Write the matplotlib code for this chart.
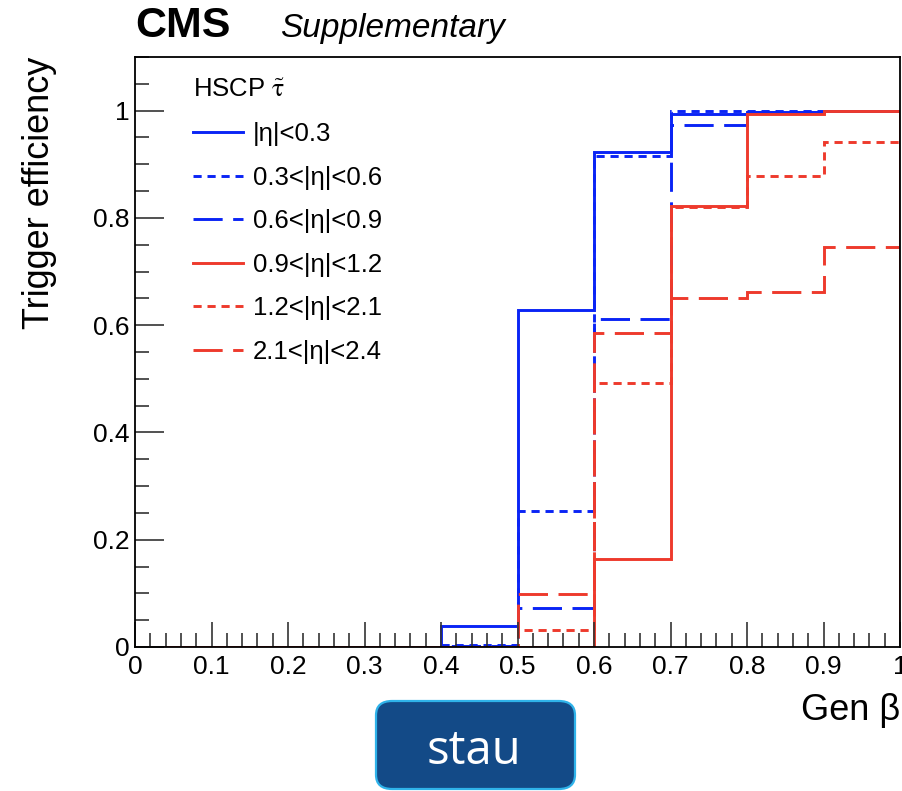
import numpy as np
import matplotlib.pyplot as plt
from matplotlib.patches import FancyBboxPatch
from matplotlib.ticker import MultipleLocator

plt.rcParams['font.family'] = ['Liberation Sans', 'DejaVu Sans']
plt.rcParams['mathtext.fontset'] = 'stix'

# Gen beta bins and per-eta trigger efficiencies (HSCP stau)
beta_edges = np.round(np.arange(0, 1.01, 0.1), 2)
eff_eta_00_03 = [0, 0, 0, 0, 0.040, 0.629, 0.922, 0.993, 0.997, 0.999]
eff_eta_03_06 = [0, 0, 0, 0, 0.003, 0.254, 0.915, 0.999, 0.999, 1.000]
eff_eta_06_09 = [0, 0, 0, 0, 0.002, 0.072, 0.612, 0.974, 0.997, 1.000]
eff_eta_09_12 = [0, 0, 0, 0, 0.000, 0.000, 0.164, 0.823, 0.994, 0.999]
eff_eta_12_21 = [0, 0, 0, 0, 0.000, 0.032, 0.492, 0.821, 0.879, 0.941]
eff_eta_21_24 = [0, 0, 0, 0, 0.000, 0.098, 0.586, 0.650, 0.661, 0.745]

labels = ['|η|<0.3', '0.3<|η|<0.6', '0.6<|η|<0.9',
          '0.9<|η|<1.2', '1.2<|η|<2.1', '2.1<|η|<2.4']
series = [eff_eta_00_03, eff_eta_03_06, eff_eta_06_09,
          eff_eta_09_12, eff_eta_12_21, eff_eta_21_24]

blue = '#0a24f5'
red = '#ee3a2c'
dotted = (0, (2.8, 2.0))
longdash = (0, (10, 3.6))
styles = [(blue, '-'), (blue, dotted), (blue, longdash),
          (red, '-'), (red, dotted), (red, longdash)]

fig = plt.figure(figsize=(9.02, 7.91), dpi=100)
ax = fig.add_axes([135 / 902, 144 / 791, 765 / 902, 590 / 791])

handles = []
for vals, lab, (col, ls) in zip(series, labels, styles):
    h = ax.stairs(vals, beta_edges, color=col, linestyle=ls, linewidth=2.1,
                  label=lab)
    handles.append(h)

ax.set_xlim(0, 1)
ax.set_ylim(0, 1.1)

# ROOT-like ticks: inward, on bottom and left only
ax.xaxis.set_minor_locator(MultipleLocator(0.02))
ax.yaxis.set_minor_locator(MultipleLocator(0.05))
ax.tick_params(which='both', direction='in', top=False, right=False,
               labelsize=19, width=1.2, color='#333333')
ax.tick_params(axis='x', which='major', length=18, pad=6)
ax.tick_params(axis='y', which='major', length=21, pad=4)
ax.tick_params(which='minor', length=10)
ax.set_xticks(beta_edges)
ax.set_xticklabels(['0' if v == 0 else ('1' if v == 1 else f'{v:g}') for v in beta_edges])
ax.set_yticks([0, 0.2, 0.4, 0.6, 0.8, 1.0])
ax.set_yticklabels(['0', '0.2', '0.4', '0.6', '0.8', '1'])
for sp in ax.spines.values():
    sp.set_linewidth(1.3)

ax.set_xlabel('Gen β', fontsize=26, loc='right', labelpad=10)
ax.set_ylabel('Trigger efficiency', fontsize=26, loc='top', labelpad=26)

fig.text(135 / 902, 1 - 37 / 791, 'CMS', fontsize=31, fontweight='bold',
         ha='left', va='baseline')
fig.text(280 / 902, 1 - 37 / 791, 'Supplementary', fontsize=24,
         fontstyle='italic', ha='left', va='baseline')

leg = ax.legend(handles=handles, loc='upper left', bbox_to_anchor=(0.062, 0.981),
                title=r'HSCP $\mathrm{\tilde{\tau}}$', fontsize=18.5, title_fontsize=18.5,
                frameon=False, handlelength=1.95, handletextpad=0.4,
                labelspacing=0.76, alignment='left', borderaxespad=0)

# label box under the axis
box = FancyBboxPatch((376 / 902, 1 - 789 / 791), 199 / 902, 88 / 791,
                     boxstyle='round,pad=0,rounding_size=0.018',
                     transform=fig.transFigure, facecolor='#134a87',
                     edgecolor='#2fb3ea', linewidth=1.6, clip_on=False)
fig.patches.append(box)
fig.text(474 / 902, 1 - 764 / 791, 'stau', fontsize=34, color='white',
         family=['Open Sans', 'DejaVu Sans'], ha='center', va='baseline')

fig.savefig('out.png', dpi=100)
